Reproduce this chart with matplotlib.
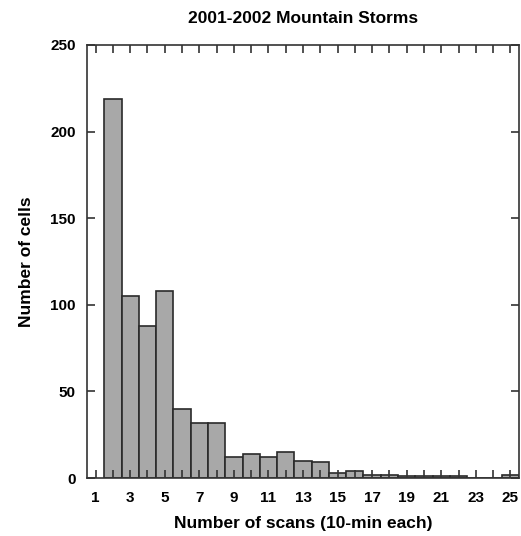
import matplotlib
matplotlib.use("Agg")
import matplotlib.pyplot as plt
from matplotlib.ticker import MultipleLocator

scans = list(range(2, 26))
cells = [219, 105, 88, 108, 40, 32, 32, 12, 14, 12, 15, 10, 9, 3, 4, 2, 2, 1, 1, 1, 1, 0, 0, 2]
xticks = list(range(1, 26, 2))
yticks = [0, 50, 100, 150, 200, 250]

plt.rcParams['font.family'] = ['Liberation Sans', 'DejaVu Sans']
plt.rcParams['font.weight'] = 'bold'

fig = plt.figure(figsize=(5.21, 5.36), dpi=100)
ax = fig.add_axes([87/521, 1 - 478/536, 432/521, 433/536])

ax.bar(scans, cells, width=1.0, color='#a8a8a8', edgecolor='#2a2a2a', linewidth=1.2)
ax.set_xlim(0.5, 25.5)
ax.set_ylim(0, 250)
ax.set_xticks(xticks)
ax.xaxis.set_minor_locator(MultipleLocator(1))
ax.set_yticks(yticks)
ax.tick_params(axis='both', which='both', direction='in', top=True, right=True,
               labelsize=11, width=1.2, color='#333333')
ax.tick_params(axis='both', which='major', length=6)
ax.tick_params(axis='x', which='major', pad=9)
ax.tick_params(axis='y', which='major', pad=8)
ax.tick_params(axis='x', which='minor', length=6)
for lbl in ax.get_xticklabels() + ax.get_yticklabels():
    lbl.set_fontweight('bold')
for s in ax.spines.values():
    s.set_linewidth(1.2)
    s.set_color('#333333')

ax.set_title('2001-2002 Mountain Storms', fontsize=12.5, fontweight='bold', pad=16)
ax.set_xlabel('Number of scans (10-min each)', fontsize=12.5, fontweight='bold', labelpad=8)
ax.set_ylabel('Number of cells', fontsize=12.5, fontweight='bold', labelpad=12)

fig.savefig('out.png', dpi=100)
